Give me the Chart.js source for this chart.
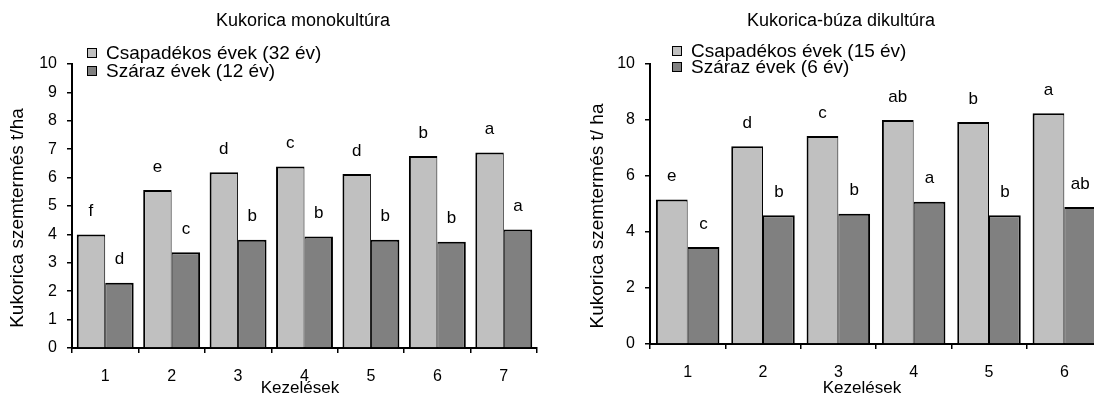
<!DOCTYPE html>
<html>
<head>
<meta charset="utf-8">
<script src="https://cdn.jsdelivr.net/npm/chart.js@4.4.1/dist/chart.umd.min.js"></script>
<style>
  html, body { margin: 0; padding: 0; background: #fff; overflow: hidden; }
  #wrap { position: relative; width: 1094px; height: 396px; overflow: hidden; }
  canvas { position: absolute; top: 0; }
  #leftChart { left: 0; }
  #rightChart { left: 550px; }
</style>
</head>
<body>
<div id="wrap">
  <canvas id="leftChart" width="550" height="396"></canvas>
  <canvas id="rightChart" width="560" height="396"></canvas>
</div>
<script>
// Kukorica monokultúra
const monoCategories = ['1', '2', '3', '4', '5', '6', '7'];
const monoWet = [4.0, 5.56, 6.19, 6.39, 6.13, 6.76, 6.88];
const monoDry = [2.3, 3.37, 3.81, 3.93, 3.81, 3.74, 4.17];
const monoWetLetters = ['f', 'e', 'd', 'c', 'd', 'b', 'a'];
const monoDryLetters = ['d', 'c', 'b', 'b', 'b', 'b', 'a'];
const monoLegend = ['Csapadékos évek (32 év)', 'Száraz évek (12 év)'];

// Kukorica-búza dikultúra
const diCategories = ['1', '2', '3', '4', '5', '6'];
const diWet = [5.16, 7.06, 7.43, 8.0, 7.93, 8.24];
const diDry = [3.46, 4.6, 4.65, 5.08, 4.6, 4.89];
const diWetLetters = ['e', 'd', 'c', 'ab', 'b', 'a'];
const diDryLetters = ['c', 'b', 'b', 'a', 'b', 'ab'];
const diLegend = ['Csapadékos évek (15 év)', 'Száraz évek (6 év)'];

const FONT = '"Liberation Sans", Arial, sans-serif';
const WET = '#c0c0c0';
const DRY = '#808080';

// letters above bars + legend + titles
const decorPlugin = {
  id: 'decor',
  afterDatasetsDraw(chart, args, opts) {
    const ctx = chart.ctx;
    ctx.save();
    ctx.fillStyle = '#000';
    ctx.textAlign = 'center';
    ctx.textBaseline = 'middle';
    ctx.font = '17px ' + FONT;
    chart.data.datasets.forEach((ds, i) => {
      chart.getDatasetMeta(i).data.forEach((bar, j) => {
        ctx.fillText(ds.letters[j], bar.x, bar.y - 23);
      });
    });

    // titles
    ctx.font = '18px ' + FONT;
    ctx.fillText(opts.title, opts.titleX, 21);
    ctx.font = '17px ' + FONT;
    ctx.fillText('Kezelések', opts.xTitleX, 388);
    ctx.save();
    ctx.translate(opts.yTitleX, opts.yTitleY);
    ctx.rotate(-Math.PI / 2);
    ctx.font = '19px ' + FONT;
    ctx.fillText(opts.yTitle, 0, 0);
    ctx.restore();

    // legend
    ctx.textAlign = 'left';
    ctx.font = '19px ' + FONT;
    chart.data.datasets.forEach((ds, i) => {
      const y = opts.legendY[i];
      ctx.fillStyle = ds.backgroundColor;
      ctx.fillRect(opts.legendX, y - 4.5, 9, 9);
      ctx.strokeStyle = '#000';
      ctx.lineWidth = 1;
      ctx.strokeRect(opts.legendX + 0.5, y - 4.5, 9, 9);
      ctx.fillStyle = '#000';
      ctx.fillText(ds.label, opts.legendX + 19, y + 1);
    });
    ctx.restore();
  }
};

function makeChart(id, cats, wet, dry, wetLetters, dryLetters, legend, cfg) {
  return new Chart(document.getElementById(id), {
    type: 'bar',
    data: {
      labels: cats,
      datasets: [
        { label: legend[0], data: wet, letters: wetLetters, backgroundColor: WET,
          borderColor: '#000', borderWidth: { top: 2, left: 2, right: 1, bottom: 0 } },
        { label: legend[1], data: dry, letters: dryLetters, backgroundColor: DRY,
          borderColor: '#000', borderWidth: { top: 2, left: 1, right: 2, bottom: 0 } },
      ],
    },
    options: {
      responsive: false,
      animation: false,
      devicePixelRatio: 1,
      categoryPercentage: cfg.catPct,
      barPercentage: 1,
      layout: { padding: { top: cfg.top, right: cfg.right, left: 0, bottom: 0 } },
      plugins: {
        legend: { display: false },
        tooltip: { enabled: false },
        decor: cfg.decor,
      },
      scales: {
        x: {
          grid: { drawOnChartArea: false, tickLength: 5, color: '#000', lineWidth: 1.5 },
          border: { color: '#000', width: 2 },
          ticks: { color: '#000', font: { size: 16, family: FONT }, padding: 14, maxRotation: 0 },
          afterFit: s => { s.height = cfg.xHeight; },
        },
        y: {
          min: 0, max: 10,
          grid: { drawOnChartArea: false, tickLength: 5, color: '#000', lineWidth: 1.5 },
          border: { color: '#000', width: 2 },
          ticks: { color: '#000', font: { size: 16, family: FONT }, padding: 10, stepSize: cfg.step },
          afterFit: s => { s.width = cfg.yWidth; },
        },
      },
    },
    plugins: [decorPlugin],
  });
}

makeChart('leftChart', monoCategories, monoWet, monoDry, monoWetLetters, monoDryLetters, monoLegend, {
  catPct: 0.857, top: 64, right: 13, xHeight: 48, yWidth: 72, step: 1,
  decor: {
    title: 'Kukorica monokultúra', titleX: 303,
    xTitleX: 300, yTitle: 'Kukorica szemtermés t/ha', yTitleX: 18, yTitleY: 218,
    legendX: 87, legendY: [53, 71],
  },
});

makeChart('rightChart', diCategories, diWet, diDry, diWetLetters, diDryLetters, diLegend, {
  catPct: 0.843, top: 64, right: 8, xHeight: 52, yWidth: 100, step: 2,
  decor: {
    title: 'Kukorica-búza dikultúra', titleX: 291,
    xTitleX: 312, yTitle: 'Kukorica szemtermés t/ ha', yTitleX: 48, yTitleY: 216,
    legendX: 122, legendY: [51, 67],
  },
});
</script>
</body>
</html>
